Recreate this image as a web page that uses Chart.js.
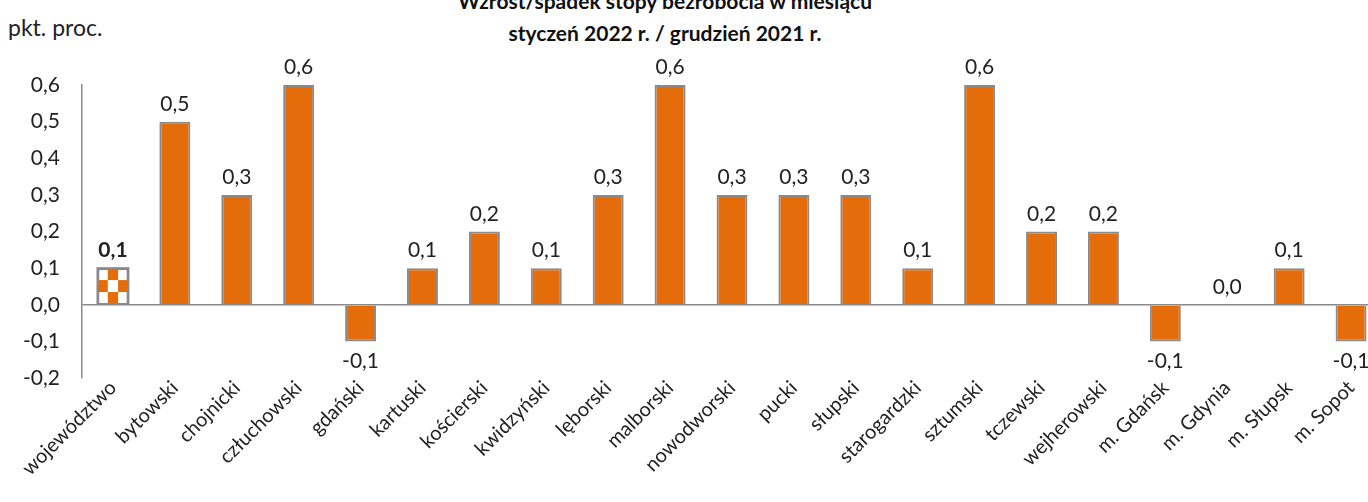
<!DOCTYPE html>
<html>
<head>
<meta charset="utf-8">
<script src="https://cdn.jsdelivr.net/npm/chart.js@4/dist/chart.umd.min.js"></script>
<style>
    html, body { margin: 0; padding: 0; background: #fff; overflow: hidden; }
    body { width: 1368px; height: 502px; position: relative; font-family: Lato, 'Noto Sans', sans-serif; }
    #wrap { position: absolute; left: 0; top: 0; width: 1382px; height: 502px; }
    .unit { position: absolute; left: 8px; top: 13px; font-size: 23px; line-height: 28px; color: #222; }
    .title { position: absolute; left: 365px; width: 600px; text-align: center; font-weight: bold; font-size: 21px; color: #111; line-height: 30px; }
</style>
</head>
<body>
<div class="title" style="top:-14px">Wzrost/spadek stopy bezrobocia w miesiącu</div>
<div class="title" style="top:18px">styczeń 2022 r. / grudzień 2021 r.</div>
<div class="unit">pkt. proc.</div>
<div id="wrap"><canvas id="chart"></canvas></div>
<script>
const categories = ['województwo', 'bytowski', 'chojnicki', 'człuchowski', 'gdański', 'kartuski',
    'kościerski', 'kwidzyński', 'lęborski', 'malborski', 'nowodworski', 'pucki', 'słupski',
    'starogardzki', 'sztumski', 'tczewski', 'wejherowski', 'm. Gdańsk', 'm. Gdynia', 'm. Słupsk', 'm. Sopot'];
const changes = [0.1, 0.5, 0.3, 0.6, -0.1, 0.1, 0.2, 0.1, 0.3, 0.6, 0.3, 0.3, 0.3, 0.1, 0.6, 0.2, 0.2, -0.1, 0.0, 0.1, -0.1];

const orange = '#E46C0A';
const edge = '#8a8a8a';
const fmt = v => v.toFixed(1).replace('.', ',');

// checker pattern on the first bar + value labels
const labelsPlugin = {
    id: 'valueLabels',
    afterDatasetsDraw(chart) {
        const ctx = chart.ctx;
        const meta = chart.getDatasetMeta(0);
        ctx.save();
        const b0 = meta.data[0];
        const left = b0.x - b0.width / 2, top = b0.y, h = b0.base - b0.y;
        const cw = b0.width / 3, ch = h / 3;
        ctx.fillStyle = orange;
        for (let r = 0; r < 3; r++) {
            for (let c = 0; c < 3; c++) {
                if ((r + c) % 2 === 1) ctx.fillRect(left + c * cw, top + r * ch, cw, ch);
            }
        }
        ctx.strokeStyle = edge;
        ctx.lineWidth = 2;
        ctx.strokeRect(left, top, b0.width, h);

        ctx.fillStyle = '#222';
        ctx.textAlign = 'center';
        meta.data.forEach((bar, i) => {
            const v = changes[i];
            ctx.font = (i === 0 ? 'bold ' : '') + '21px Lato, sans-serif';
            if (v < 0) {
                ctx.textBaseline = 'top';
                ctx.fillText(fmt(v), bar.x, bar.y + 9);
            } else {
                ctx.textBaseline = 'alphabetic';
                ctx.fillText(fmt(v), bar.x, Math.min(bar.y, bar.base) - 11);
            }
        });
        ctx.restore();
    }
};

new Chart(document.getElementById('chart'), {
    type: 'bar',
    data: {
        labels: categories,
        datasets: [{
            data: changes,
            backgroundColor: categories.map((c, i) => i === 0 ? '#fff' : orange),
            borderColor: edge,
            borderWidth: 2,
            barPercentage: 0.5,
            categoryPercentage: 1
        }]
    },
    options: {
        responsive: true,
        maintainAspectRatio: false,
        animation: false,
        layout: { padding: { top: 85, right: 0, left: 0, bottom: 0 } },
        plugins: { legend: { display: false }, tooltip: { enabled: false } },
        scales: {
            y: {
                min: -0.2,
                max: 0.6,
                afterFit: s => { s.width = 82; },
                border: { display: true, color: edge, width: 1.5 },
                grid: {
                    drawTicks: false,
                    color: c => c.tick && c.tick.value === 0 ? edge : 'transparent',
                    lineWidth: 1.5
                },
                ticks: {
                    stepSize: 0.1,
                    padding: 22,
                    color: '#222',
                    font: { family: 'Lato', size: 21 },
                    callback: v => fmt(v)
                }
            },
            x: {
                afterFit: s => { s.height = 124; },
                border: { display: false },
                grid: { display: false },
                ticks: {
                    minRotation: 45,
                    maxRotation: 45,
                    autoSkip: false,
                    padding: -10,
                    color: '#222',
                    font: { family: 'Lato', size: 20 }
                }
            }
        }
    },
    plugins: [labelsPlugin]
});
</script>
</body>
</html>
